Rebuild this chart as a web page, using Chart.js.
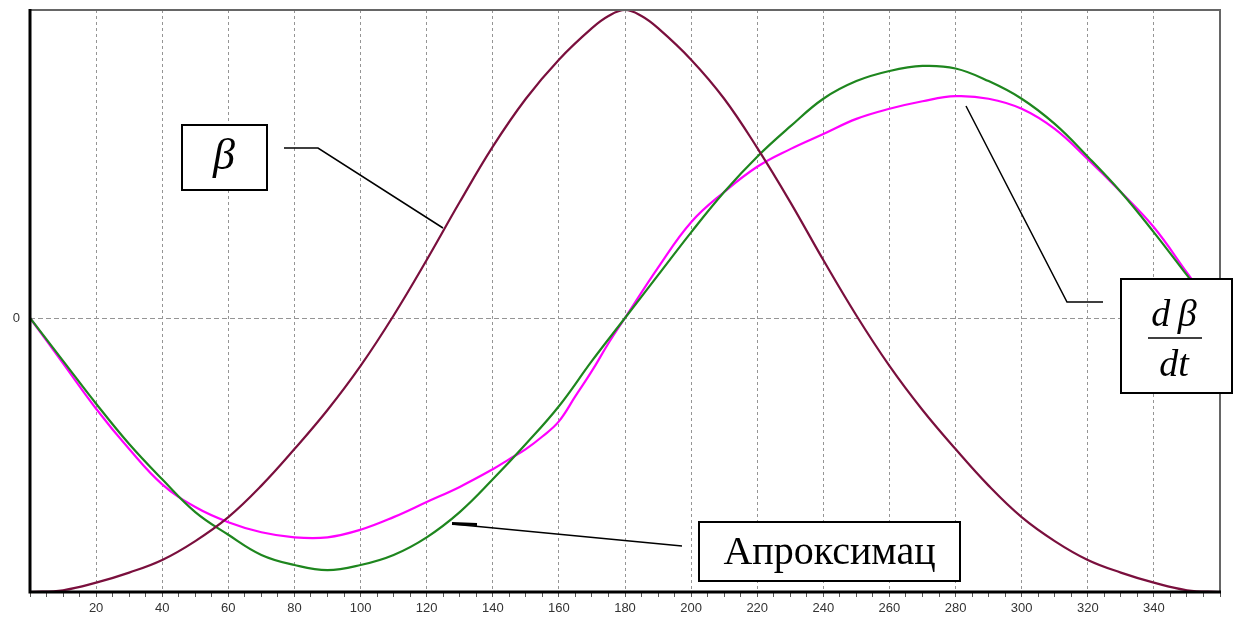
<!DOCTYPE html>
<html><head><meta charset="utf-8">
<script src="https://cdn.jsdelivr.net/npm/chart.js@4.4.1/dist/chart.umd.min.js"></script>
<style>html,body{margin:0;padding:0;background:#fff;overflow:hidden}#c{display:block}</style>
</head><body>
<canvas id="c" width="1238" height="636"></canvas>
<script>
const angles = [0,10,20,30,40,50,60,70,80,90,100,110,120,130,140,150,160,170,180,190,200,210,220,230,240,250,260,270,280,290,300,310,320,330,340,350,360];
const betaAngles = [0,10,20,30,40,50,60,70,80,90,100,110,120,130,140,150,160,170,175,180,185,190,200,210,220,230,240,250,260,270,280,290,300,310,320,330,340,350,360];
const betaValues = [-1.087,-1.08,-1.05,-1.01,-0.96,-0.885,-0.79,-0.665,-0.52,-0.365,-0.19,0.01,0.23,0.46,0.68,0.87,1.025,1.15,1.198,1.222,1.198,1.15,1.025,0.87,0.675,0.46,0.23,0.01,-0.19,-0.365,-0.52,-0.665,-0.79,-0.885,-0.96,-1.01,-1.05,-1.08,-1.087];
const derivValues = [0,-0.17,-0.34,-0.50,-0.64,-0.77,-0.86,-0.94,-0.98,-1.00,-0.98,-0.94,-0.87,-0.77,-0.64,-0.50,-0.35,-0.17,0,0.17,0.34,0.50,0.64,0.76,0.87,0.94,0.98,1.00,0.99,0.94,0.87,0.77,0.64,0.50,0.34,0.17,0];
const approxAngles = [0,10,20,30,40,50,60,70,80,90,100,110,120,130,140,145,150,155,160,165,170,175,180,190,200,210,220,230,240,250,260,270,280,290,300,310,320,330,340,350,360];
const approxValues = [0,-0.18,-0.36,-0.52,-0.66,-0.75,-0.81,-0.85,-0.87,-0.87,-0.84,-0.79,-0.73,-0.67,-0.60,-0.56,-0.52,-0.47,-0.41,-0.31,-0.21,-0.10,0,0.20,0.38,0.50,0.60,0.67,0.73,0.79,0.83,0.86,0.88,0.87,0.83,0.75,0.63,0.50,0.36,0.18,0];
const xTickLabels = [20,40,60,80,100,120,140,160,180,200,220,240,260,280,300,320,340];
const yTickLabels = [0];
const seriesNames = ['β', 'dβ/dt', 'Апроксимац'];
const xRange = [0, 360];
const yRange = [-1.087, 1.222];

function pts(xs, vals){ return xs.map((a,i)=>({x:a,y:vals[i]})); }

const framePlugin = {
  id:'frame',
  afterDatasetsDraw(chart){
    const {ctx, chartArea:{left,top,right,bottom}} = chart;
    ctx.save();
    ctx.strokeStyle = '#666'; ctx.lineWidth = 2;
    ctx.beginPath(); ctx.moveTo(left, top); ctx.lineTo(right, top); ctx.lineTo(right, bottom); ctx.stroke();
    ctx.strokeStyle = '#000'; ctx.lineWidth = 3;
    ctx.beginPath(); ctx.moveTo(left, top-1); ctx.lineTo(left, bottom); ctx.lineTo(right+1, bottom); ctx.stroke();
    ctx.restore();
  }
};

const notePlugin = {
  id:'notes',
  afterDraw(chart){
    const ctx = chart.ctx;
    ctx.save();
    function box(x1,y1,x2,y2){
      ctx.fillStyle='#fff'; ctx.fillRect(x1,y1,x2-x1,y2-y1);
      ctx.strokeStyle='#000'; ctx.lineWidth=2; ctx.strokeRect(x1,y1,x2-x1,y2-y1);
    }
    function line(p, w){
      ctx.strokeStyle='#000'; ctx.lineWidth=w||1.5; ctx.beginPath();
      ctx.moveTo(p[0][0],p[0][1]); for(let i=1;i<p.length;i++) ctx.lineTo(p[i][0],p[i][1]); ctx.stroke();
    }
    // beta label
    line([[284,148],[318,148],[443,228]]);
    box(182,125,267,190);
    ctx.fillStyle='#000'; ctx.textAlign='center'; ctx.textBaseline='middle';
    ctx.font='italic 44px "Liberation Serif", "DejaVu Serif", serif';
    ctx.fillText(seriesNames[0], 224, 157);
    // derivative label
    line([[1103,302],[1067,302],[966,106]]);
    box(1121,279,1232,393);
    ctx.fillStyle='#000';
    ctx.font='italic 38px "Liberation Serif", "DejaVu Serif", serif';
    ctx.fillText('d\u2009β', 1174, 316);
    ctx.fillText('dt', 1174, 366);
    ctx.lineWidth=1.5; ctx.beginPath(); ctx.moveTo(1148,338); ctx.lineTo(1202,338); ctx.stroke();
    // approximation label
    line([[682,546],[452,524]]);
    line([[452,523.5],[477,524.5]], 3);
    box(699,522,960,581);
    ctx.fillStyle='#000';
    ctx.font='40px "Liberation Serif", "DejaVu Serif", serif';
    ctx.fillText(seriesNames[2], 829.5, 553);
    ctx.restore();
  }
};

const minorTicks = [];
for (let v = xRange[0]; v <= xRange[1]; v += 5) minorTicks.push({value:v});

const lineOpts = {borderWidth:2.2, pointRadius:0, tension:0.4, fill:false};

new Chart(document.getElementById('c'), {
  type:'line',
  data:{
    datasets:[
      Object.assign({label:seriesNames[0], data:pts(betaAngles, betaValues), borderColor:'#7a0f3d'}, lineOpts),
      Object.assign({label:seriesNames[1], data:pts(angles, derivValues), borderColor:'#1e861e'}, lineOpts),
      Object.assign({label:seriesNames[2], data:pts(approxAngles, approxValues), borderColor:'#ff00ff'}, lineOpts)
    ]
  },
  options:{
    responsive:false, devicePixelRatio:1, animation:false,
    layout:{padding:{left:0, top:10, right:18, bottom:0}},
    plugins:{legend:{display:false}, tooltip:{enabled:false}},
    scales:{
      x:{
        type:'linear', min:xRange[0], max:xRange[1],
        afterBuildTicks(s){ s.ticks = minorTicks.map(t=>({value:t.value})); },
        afterFit(s){ s.height = 44; s.paddingLeft = 0; s.paddingRight = 0; },
        ticks:{autoSkip:false, maxRotation:0, padding:4, color:'#333',
          font:{family:'"Liberation Sans", Arial, sans-serif', size:13},
          callback:(v)=> xTickLabels.includes(v) ? String(v) : ''},
        grid:{
          color:(c)=> (c.tick && xTickLabels.includes(c.tick.value)) ? '#959595' : 'rgba(0,0,0,0)',
          tickColor:'#555', tickLength:5, lineWidth:1, borderDash:[3,3]
        },
        border:{display:false, dash:[3,3]}
      },
      y:{
        type:'linear', min:yRange[0], max:yRange[1],
        afterBuildTicks(s){ s.ticks = yTickLabels.map(v=>({value:v})); },
        afterFit(s){ s.width = 30; s.paddingTop = 0; s.paddingBottom = 0; },
        ticks:{padding:10, color:'#333', font:{family:'"Liberation Sans", Arial, sans-serif', size:13},
          callback:(v)=> String(v)},
        grid:{color:'#959595', drawTicks:false, lineWidth:1, borderDash:[5,3]},
        border:{display:false, dash:[5,3]}
      }
    }
  },
  plugins:[framePlugin, notePlugin]
});
</script>
</body></html>
